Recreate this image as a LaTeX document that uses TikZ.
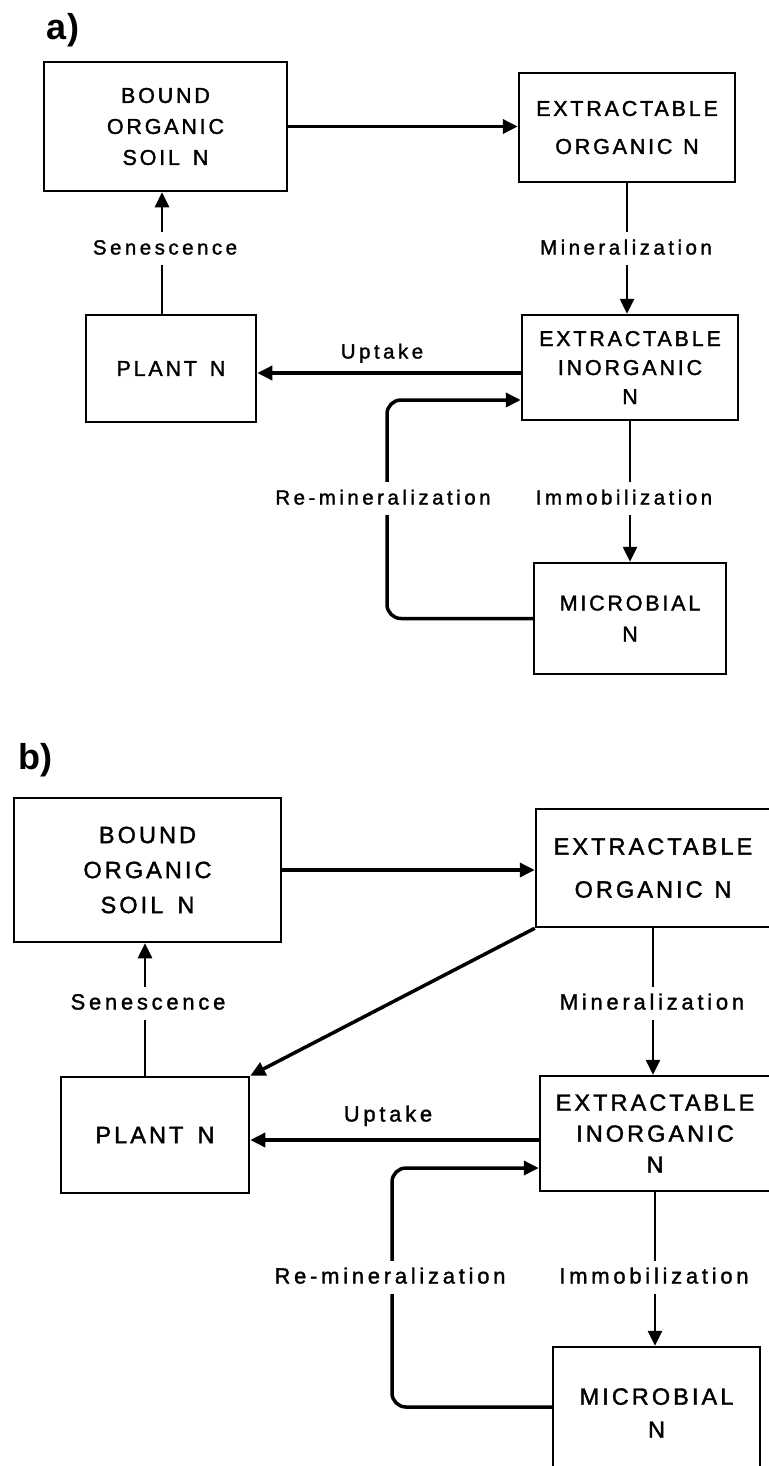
\documentclass[tikz,border=0pt]{standalone}
\usepackage{fontspec}
\setmainfont{Liberation Sans}
\newfontfamily\boxfont[LetterSpace=13, FakeBold=1.6]{Liberation Sans}
\newfontfamily\flowfont[LetterSpace=17, FakeBold=1.4]{Liberation Sans}
\usetikzlibrary{arrows.meta}

\begin{document}
\begin{tikzpicture}[x=1pt, y=-1pt,
    pool/.style={draw, line width=2.5pt, inner sep=0pt, align=center},
    poola/.style={pool, font=\boxfont\fontsize{21.5}{31}\selectfont},
    poolb/.style={pool, font=\boxfont\fontsize{23.5}{35}\selectfont},
    flow/.style={line width=3.5pt, -{Triangle[length=15pt, width=14pt]}},
    link/.style={line width=2.6pt, -{Triangle[length=15pt, width=14pt]}},
    rate/.style={fill=white, inner xsep=4pt, inner ysep=8pt, text height=15pt, text depth=2pt},
    ratea/.style={rate, font=\flowfont\fontsize{20.5}{24}\selectfont},
    rateb/.style={rate, font=\flowfont\fontsize{22}{26}\selectfont},
    tag/.style={font=\bfseries\fontsize{36}{36}\selectfont}]
        \useasboundingbox (0, 0) rectangle (768, 1466);

        \node[tag] (taga) at (63, 30) {a)};
        \node[poola, minimum width=243pt, minimum height=129pt] (bounda) at (165.5, 126.5) {BOUND\\ORGANIC\\SOIL\hspace{0.6em}N};
        \node[poola, minimum width=216pt, minimum height=109pt] (extorga) at (627, 127.5) {EXTRACTABLE\\[7pt]ORGANIC\hspace{0.5em}N};
        \node[poola, minimum width=170pt, minimum height=107pt] (planta) at (171, 368.5) {PLANT\hspace{0.6em}N};
        \node[poola, minimum width=216pt, minimum height=105pt, font=\boxfont\fontsize{21.5}{29}\selectfont] (inorga) at (630, 367.5) {EXTRACTABLE\\INORGANIC\\N};
        \node[poola, minimum width=192pt, minimum height=111pt] (microbiala) at (630, 618.5) {MICROBIAL\\N};
        \coordinate (loopa) at (387, 400);

        \draw[flow] (bounda.east) -- (bounda.east -| extorga.west);
        \draw[link] ([xshift=-9pt]planta.north) -- ([xshift=-9pt]planta.north |- bounda.south);
        \draw[link] (extorga.south) -- (extorga.south |- inorga.north);
        \draw[flow] ([yshift=-5.5pt]inorga.west) -- ([yshift=-5.5pt]inorga.west -| planta.east);
        \draw[flow, rounded corners=14pt] (microbiala.west) -| (loopa) -- (loopa -| inorga.west);
        \draw[link] (inorga.south) -- (inorga.south |- microbiala.north);

        \node[ratea] (senesca) at (165, 248) {Senescence};
        \node[ratea] (minera) at (626, 248) {Mineralization};
        \node[ratea] (uptakea) at (382, 352) {Uptake};
        \node[ratea] (reminera) at (383, 498) {Re-mineralization};
        \node[ratea] (immoba) at (624, 498) {Immobilization};

        \node[tag] (tagb) at (35, 760) {b)};
        \node[poolb, minimum width=267pt, minimum height=144pt] (boundb) at (147.5, 870) {BOUND\\ORGANIC\\SOIL\hspace{0.6em}N};
        \node[poolb, minimum width=234pt, minimum height=118pt] (extorgb) at (653, 868) {EXTRACTABLE\\[8pt]ORGANIC\hspace{0.5em}N};
        \node[poolb, minimum width=188pt, minimum height=116pt] (plantb) at (155, 1135) {PLANT\hspace{0.6em}N};
        \node[poolb, minimum width=230pt, minimum height=115pt, font=\boxfont\fontsize{23.5}{31}\selectfont] (inorgb) at (655, 1133.5) {EXTRACTABLE\\INORGANIC\\N};
        \node[poolb, minimum width=207pt, minimum height=132pt, font=\boxfont\fontsize{23.5}{33}\selectfont] (microbialb) at (656.5, 1413) {MICROBIAL\\N};
        \coordinate (loopb) at (392, 1168);

        \draw[flow] (boundb.east) -- (boundb.east -| extorgb.west);
        \draw[flow] (extorgb.south west) -- (plantb.north east);
        \draw[link] ([xshift=-10pt]plantb.north) -- ([xshift=-10pt]plantb.north |- boundb.south);
        \draw[link] (extorgb.south) -- (extorgb.south |- inorgb.north);
        \draw[flow] ([yshift=-6.5pt]inorgb.west) -- ([yshift=-6.5pt]inorgb.west -| plantb.east);
        \draw[flow, rounded corners=14pt] ([yshift=6pt]microbialb.west) -| (loopb) -- (loopb -| inorgb.west);
        \draw[link] (inorgb.south) -- (inorgb.south |- microbialb.north);

        \node[rateb] (senescb) at (148, 1003) {Senescence};
        \node[rateb] (minerb) at (652, 1003) {Mineralization};
        \node[rateb] (uptakeb) at (388, 1115) {Uptake};
        \node[rateb] (reminerb) at (390, 1277) {Re-mineralization};
        \node[rateb] (immobb) at (654, 1277) {Immobilization};
    \end{tikzpicture}
\end{document}
